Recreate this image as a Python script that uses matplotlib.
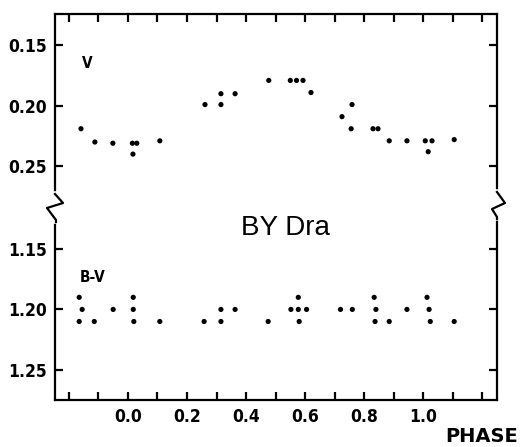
import matplotlib
matplotlib.use("Agg")
import matplotlib.pyplot as plt
from matplotlib.lines import Line2D
from matplotlib.ticker import FixedLocator

# V light curve (phase, mag)
v_phase = [-0.159, -0.112, -0.051, 0.015, 0.03, 0.017, 0.108, 0.261, 0.315, 0.315,
           0.363, 0.477, 0.55, 0.571, 0.593, 0.62, 0.725, 0.759, 0.756, 0.83,
           0.847, 0.885, 0.945, 1.007, 1.03, 1.017, 1.105]
v_mag = [0.219, 0.230, 0.231, 0.231, 0.231, 0.240, 0.229, 0.199, 0.199, 0.190,
         0.190, 0.179, 0.179, 0.179, 0.179, 0.189, 0.209, 0.199, 0.219, 0.219,
         0.219, 0.229, 0.229, 0.229, 0.229, 0.238, 0.228]

# B-V colour curve
bv_phase = [-0.165, -0.155, -0.165, -0.114, -0.05, 0.018, 0.018, 0.02, 0.108, 0.258,
            0.315, 0.315, 0.363, 0.475, 0.577, 0.552, 0.577, 0.605, 0.58, 0.72,
            0.76, 0.834, 0.84, 0.837, 0.885, 0.945, 1.013, 1.02, 1.024, 1.105]
bv_col = [1.190, 1.200, 1.210, 1.210, 1.200, 1.190, 1.200, 1.210, 1.210, 1.210,
          1.210, 1.200, 1.200, 1.210, 1.190, 1.200, 1.200, 1.200, 1.210, 1.200,
          1.200, 1.190, 1.200, 1.210, 1.210, 1.200, 1.190, 1.200, 1.210, 1.210]

x_ticks = [round(-0.2 + 0.1 * i, 1) for i in range(15)]
x_labels = ["0.0", "0.2", "0.4", "0.6", "0.8", "1.0"]
v_ticks = [0.15, 0.20, 0.25]
bv_ticks = [1.15, 1.20, 1.25]

narrow = ["Liberation Sans Narrow", "DejaVu Sans"]

W, H = 521, 447
fig = plt.figure(figsize=(W / 100, H / 100), dpi=100)
left, right = 55 / W, 497 / W
top, brk, bot = 1 - 14 / H, 1 - 207 / H, 1 - 400 / H
ax1 = fig.add_axes([left, brk, right - left, top - brk])
ax2 = fig.add_axes([left, bot, right - left, brk - bot])

lw = 1.6
for ax in (ax1, ax2):
    ax.set_xlim(-0.247, 1.25)
    for s in ax.spines.values():
        s.set_linewidth(lw)
    ax.xaxis.set_major_locator(FixedLocator(x_ticks))
    ax.xaxis.set_minor_locator(FixedLocator([0.0, 1.0]))
    ax.tick_params(axis="x", which="major", direction="in", length=6, width=lw,
                   top=True, bottom=True)
    ax.tick_params(axis="x", which="minor", direction="in", length=11, width=lw,
                   top=True, bottom=True)
    ax.tick_params(axis="y", direction="in", length=6, width=lw, left=True, right=True)

ax1.spines["bottom"].set_visible(False)
ax2.spines["top"].set_visible(False)
ax1.tick_params(axis="x", which="both", bottom=False, labelbottom=False)
ax2.tick_params(axis="x", which="both", top=False)

ax1.scatter(v_phase, v_mag, s=14, color="black", edgecolors="none")
ax2.scatter(bv_phase, bv_col, s=14, color="black", edgecolors="none")

ax1.set_ylim(0.2838, 0.124)
ax2.set_ylim(1.275, 1.1152)
ax1.set_yticks(v_ticks)
ax1.set_yticklabels(["0.15", "0.20", "0.25"])
ax2.set_yticks(bv_ticks)
ax2.set_yticklabels(["1.15", "1.20", "1.25"])
ax2.set_xticks(x_ticks)
ax2.set_xticklabels([f"{t:.1f}" if f"{t:.1f}" in x_labels else "" for t in x_ticks])

for ax in (ax1, ax2):
    for lab in ax.get_yticklabels() + ax.get_xticklabels():
        lab.set_fontfamily(narrow)
        lab.set_fontstretch("condensed")
        lab.set_fontweight("bold")
        lab.set_fontsize(12.5)
    ax.tick_params(axis="y", pad=6)
    ax.tick_params(axis="x", pad=6)

ax1.text(0.06, 0.72, "V", transform=ax1.transAxes, fontsize=11, fontweight="bold",
         family=narrow, stretch="condensed")
ax2.text(0.055, 0.61, "B-V", transform=ax2.transAxes, fontsize=11, fontweight="bold",
         family=narrow, stretch="condensed")

fig.text(285 / W, 1 - 228 / H, "BY Dra", ha="center", va="center", fontsize=20,
         family=["Liberation Sans", "DejaVu Sans"])
fig.text(518 / W, 1 - 437 / H, "PHASE", ha="right", va="center", fontsize=14,
         fontweight="heavy", family="DejaVu Sans")


# break marks on the left and right spines (pixel coords, converted to figure)
def px(pts):
    xs = [p[0] / W for p in pts]
    ys = [1 - p[1] / H for p in pts]
    return xs, ys


for gap, pts in (([(55, 194), (55, 221)],
                  [(55, 194), (63, 203), (47, 208), (56, 220), (56, 222)]),
                 ([(497, 192), (497, 218)],
                  [(497, 192), (505, 203), (492, 209), (497, 217), (497, 219)])):
    xs, ys = px(gap)
    fig.add_artist(Line2D(xs, ys, color="white", lw=4, transform=fig.transFigure))
    xs, ys = px(pts)
    fig.add_artist(Line2D(xs, ys, color="black", lw=lw, transform=fig.transFigure))

fig.savefig("out.png", dpi=100)
